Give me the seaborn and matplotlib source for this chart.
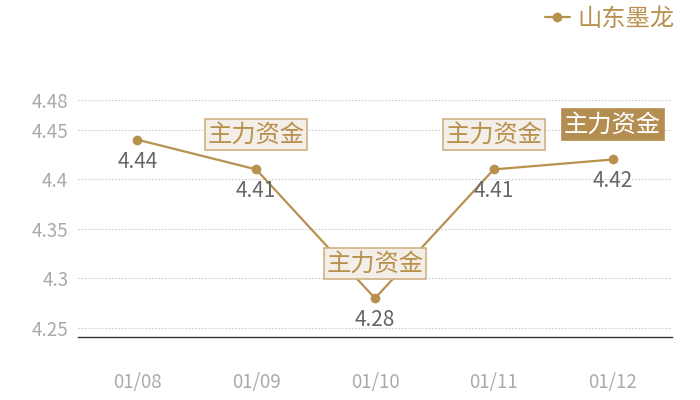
import pandas as pd
import seaborn as sns
import matplotlib.pyplot as plt

sns.set_theme(style="white")
plt.rcParams['font.family'] = ['Noto Sans CJK SC', 'DejaVu Sans']

# data
dates = ["01/08", "01/09", "01/10", "01/11", "01/12"]
prices = [4.44, 4.41, 4.28, 4.41, 4.42]
flagged = ["01/09", "01/10", "01/11", "01/12"]  # points carrying the 主力资金 tag
highlight = "01/12"
y_ticks = [4.25, 4.3, 4.35, 4.4, 4.45, 4.48]
y_tick_labels = ["4.25", "4.3", "4.35", "4.4", "4.45", "4.48"]

gold = "#b8914f"
df = pd.DataFrame({"date": dates, "price": prices})

fig = plt.figure(figsize=(7, 4), dpi=100)
ax = fig.add_axes([78 / 700, 63 / 400, 594 / 700, 237 / 400])

sns.lineplot(data=df, x="date", y="price", color=gold, marker="o",
             markersize=7, markeredgewidth=0, linewidth=1.6, ax=ax,
             label="山东墨龙", zorder=3)

ax.set_xlim(-0.5, len(dates) - 0.5)
ax.set_ylim(4.241, 4.48)
ax.set_yticks(y_ticks)
ax.set_yticklabels(y_tick_labels)
ax.set_xlabel("")
ax.set_ylabel("")
ax.tick_params(axis="both", length=0, labelsize=13.5, colors="#aaaaaa")
ax.tick_params(axis="y", pad=7)
ax.tick_params(axis="x", pad=25)
ax.grid(axis="y", linestyle=(0, (1.5, 1.5)), color="#cccccc", linewidth=0.8)
for side in ["top", "left", "right"]:
    ax.spines[side].set_visible(False)
ax.spines["bottom"].set_color("#333333")
ax.spines["bottom"].set_linewidth(1)

# value labels under each point
for i, v in enumerate(prices):
    ax.annotate(f"{v:g}", (i, v), xytext=(0, -22), textcoords="offset pixels",
                ha="center", va="center", fontsize=15, color="#666666", zorder=5)

# 主力资金 tags above points
for i, d in enumerate(dates):
    if d not in flagged:
        continue
    if d == highlight:
        fc, ec, tc = "#b48e50", "#b48e50", "white"
    else:
        fc, ec, tc = "#f3efe8", "#cfb286", gold
    ax.annotate("主力资金", (i, prices[i]), xytext=(0, 35), textcoords="offset pixels",
                ha="center", va="center", fontsize=17.5, color=tc, zorder=6,
                bbox=dict(boxstyle="square,pad=0.1", fc=fc, ec=ec, lw=1.2))

ax.legend(loc="upper right", bbox_to_anchor=(0.987, 1.028), bbox_transform=fig.transFigure,
          frameon=False, fontsize=17.5, labelcolor=gold, handlelength=1.0,
          handletextpad=0.3, borderaxespad=0.3)

fig.savefig("out.png", dpi=100)
